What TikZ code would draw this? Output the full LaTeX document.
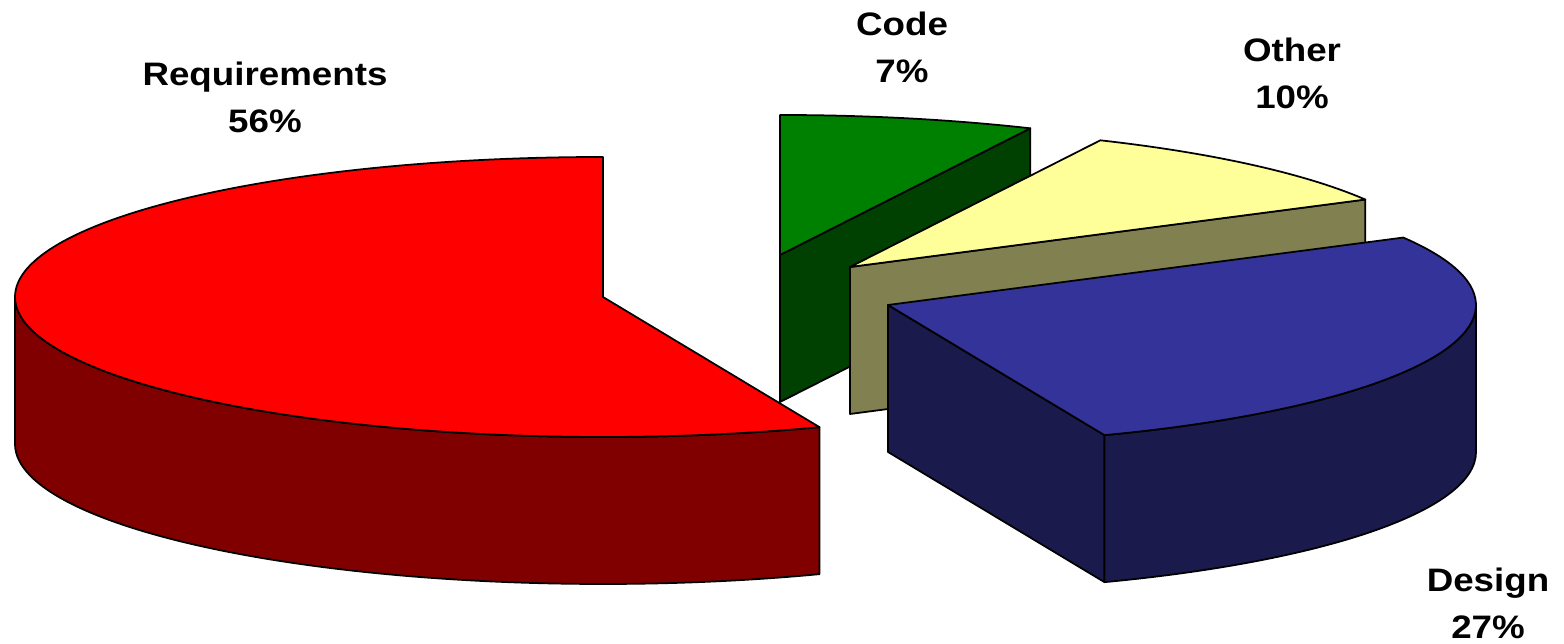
\documentclass[tikz,border=0pt]{standalone}
\usepackage{fontspec}
\setmainfont{Liberation Sans}
\usetikzlibrary{calc}
\definecolor{reqtop}{HTML}{FF0000}
\definecolor{reqside}{HTML}{800000}
\definecolor{codetop}{HTML}{008000}
\definecolor{codeside}{HTML}{004000}
\definecolor{othtop}{HTML}{FFFF99}
\definecolor{othside}{HTML}{808050}
\definecolor{destop}{HTML}{333399}
\definecolor{desside}{HTML}{1A1A4D}
\newcommand\wide[1]{\scalebox{1.13}[1]{#1}}
\tikzset{
  slice/.style={draw=black, line width=1pt, line join=round},
  pielabel/.style={font=\bfseries\fontsize{18.5}{27.3}\selectfont, align=center, anchor=base, inner sep=0pt},
  rad/.style={x radius=588, y radius=140}
}
\begin{document}
\begin{tikzpicture}[x=0.02cm, y=0.02cm]
    \useasboundingbox (0,0) rectangle (1564,644);

    \coordinate (req) at (603,347);
    \coordinate (code) at (780,389);
    \coordinate (oth) at (850,377);
    \coordinate (des) at (888,339);

    % code
    \draw[slice, fill=codeside] (code) -- ++(64.8:588 and 140) -- ++(0,-147) -- ($(code)+(0,-147)$) -- cycle;
    \draw[slice, fill=codetop] (code) -- ++(90:588 and 140) arc[start angle=90, end angle=64.8, rad] -- cycle;

    % other
    \draw[slice, fill=othside] (oth) -- ++(28.8:588 and 140) -- ++(0,-147) -- ($(oth)+(0,-147)$) -- cycle;
    \draw[slice, fill=othtop] (oth) -- ++(64.8:588 and 140) arc[start angle=64.8, end angle=28.8, rad] -- cycle;

    % design
    \draw[slice, fill=desside] (des) -- ++(-68.4:588 and 140) -- ++(0,-147) -- ($(des)+(0,-147)$) -- cycle;
    \draw[slice, fill=desside] (des) ++(-68.4:588 and 140) arc[start angle=-68.4, end angle=0, rad] -- ++(0,-147) arc[start angle=0, end angle=-68.4, rad] -- cycle;
    \draw[slice, fill=destop] (des) -- ++(28.8:588 and 140) arc[start angle=28.8, end angle=-68.4, rad] -- cycle;

    % requirements
    \draw[slice, fill=reqside] (req) ++(180:588 and 140) arc[start angle=180, end angle=291.6, rad] -- ++(0,-147) arc[start angle=291.6, end angle=180, rad] -- cycle;
    \draw[slice, fill=reqtop] (req) -- ++(90:588 and 140) arc[start angle=90, end angle=291.6, rad] -- cycle;

    \node[pielabel] (reqlbl) at (265,511) {\wide{Requirements}\\\wide{56\%}};
    \node[pielabel] (codelbl) at (902,561) {\wide{Code}\\\wide{7\%}};
    \node[pielabel] (othlbl) at (1292,535) {\wide{Other}\\\wide{10\%}};
    \node[pielabel] (deslbl) at (1488,5) {\wide{Design}\\\wide{27\%}};
  \end{tikzpicture}
\end{document}
